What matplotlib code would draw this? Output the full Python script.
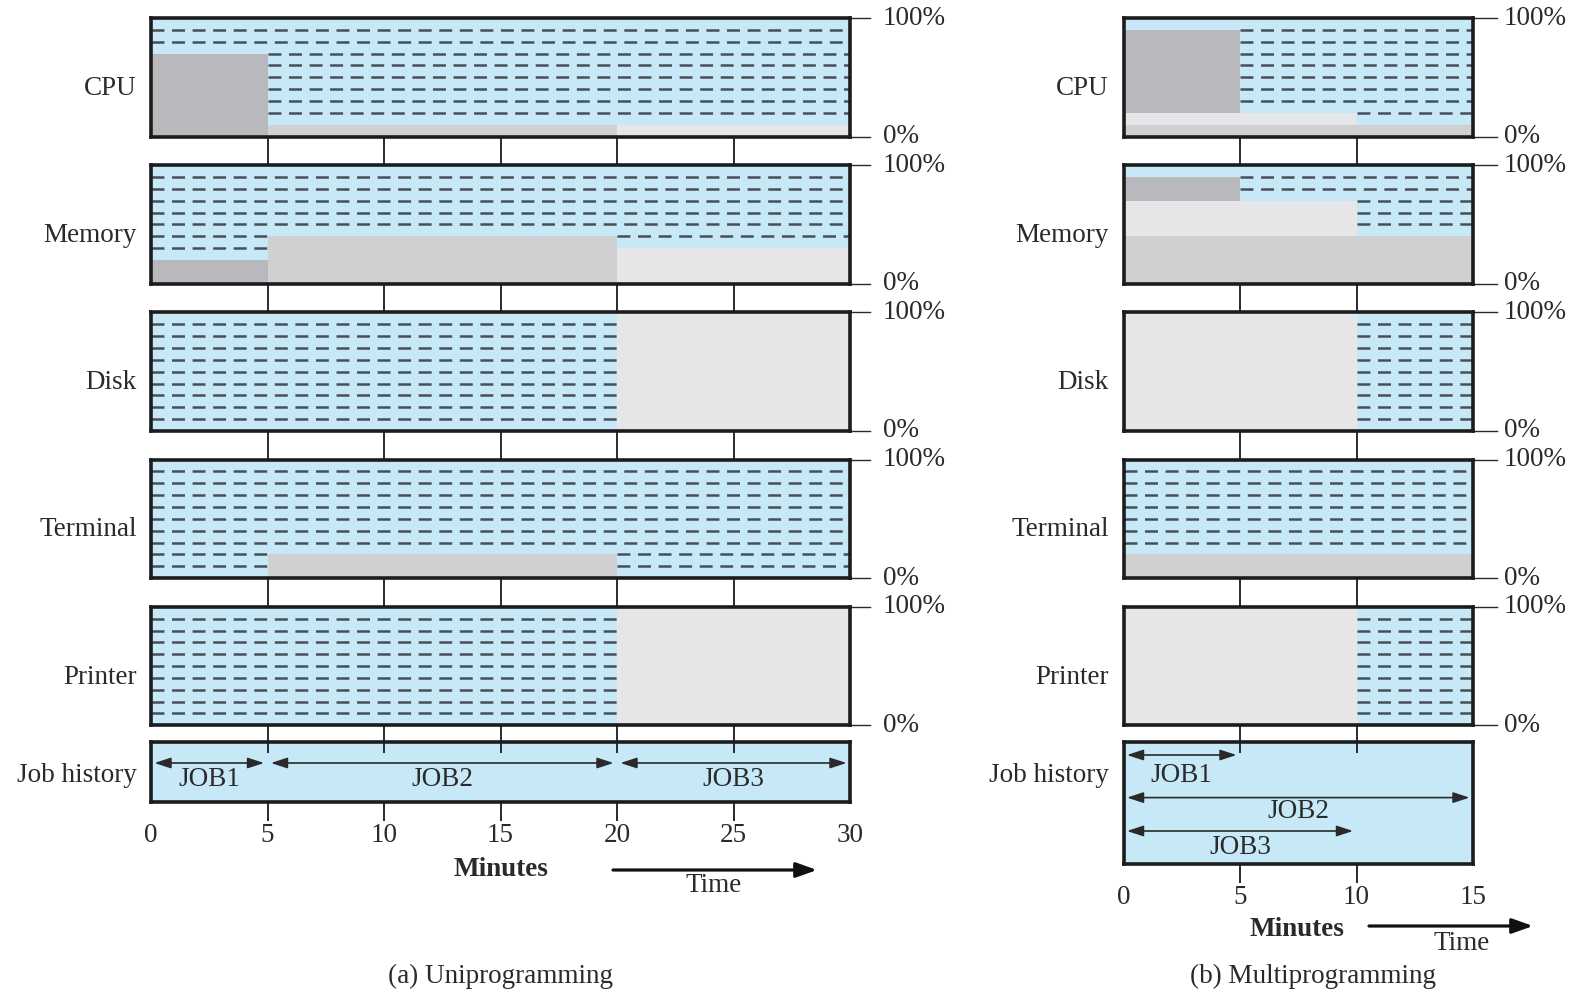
import matplotlib
matplotlib.use('Agg')
import matplotlib.pyplot as plt
from matplotlib.transforms import blended_transform_factory as blend

# ---------------- data ----------------
jobs = ['JOB1', 'JOB2', 'JOB3']
resources = ['CPU', 'Memory', 'Disk', 'Terminal', 'Printer']
cpu_use = [70, 10, 10]
memory_use = [20, 40, 30]
disk_use = [0, 0, 100]
terminal_use = [0, 20, 0]
printer_use = [0, 0, 100]
uni_start = [0, 5, 20]
uni_end = [5, 20, 30]
multi_start = [0, 0, 0]
multi_end = [5, 15, 10]
multi_stack = ['JOB2', 'JOB3', 'JOB1']
uni_ticks = [0, 5, 10, 15, 20, 25, 30]
multi_ticks = [0, 5, 10, 15]
idle_levels = [10, 20, 30, 40, 50, 60, 70, 80, 90]
percent_values = [0, 100]
percent_labels = ['0%', '100%']
row_label_job = 'Job history'
usage = {'CPU': cpu_use, 'Memory': memory_use, 'Disk': disk_use,
         'Terminal': terminal_use, 'Printer': printer_use}

# ---------------- style ----------------
plt.rcParams['font.family'] = ['Liberation Serif', 'DejaVu Serif']
plt.rcParams['lines.scale_dashes'] = False
BLUE = '#c6e8f7'
JOB_COLORS = {'JOB1': '#b9b9bd', 'JOB2': '#d0d0d3', 'JOB3': '#e6e6e8'}
DASH = '#474f57'
INK = '#2a2a2a'
FS = 19.5

W, H, DPI = 1581, 990, 100
fig = plt.figure(figsize=(W / DPI, H / DPI), dpi=DPI)
fig.patch.set_facecolor('white')


def fx(p):
    return p / W


def fy(p):
    return 1 - p / H


ROW_TOP0, ROW_STEP, ROW_H = 18, 147.2, 118.5
JH_TOP = 742

sides = [
    dict(x0=151, x1=850, xmax=30, ticks=uni_ticks, start=uni_start, end=uni_end,
         stack=jobs, jh_bottom=801.6, arrow_y=[763, 763, 763], label_y=[780, 780, 780],
         tick_label_y=835, label_x=137, pct_line=20, pct_text=33,
         minutes=(501, 869), time=(714, 886), tarrow=(613, 817, 870),
         caption=(500, 976, '(a) Uniprogramming')),
    dict(x0=1123.5, x1=1473, xmax=15, ticks=multi_ticks, start=multi_start, end=multi_end,
         stack=multi_stack, jh_bottom=864, arrow_y=[755, 797.6, 831], label_y=[775, 812, 848],
         tick_label_y=897.5, label_x=1109, pct_line=24, pct_text=31,
         minutes=(1297, 930), time=(1462, 943), tarrow=(1369, 1533, 926),
         caption=(1313, 976, '(b) Multiprogramming')),
]


def style_box(ax):
    ax.set_facecolor(BLUE)
    ax.set_xticks([])
    ax.set_yticks([])
    for s in ax.spines.values():
        s.set_linewidth(2.6)
        s.set_color('#1c1c1c')
        s.set_zorder(5)


for sd in sides:
    x0, x1, xmax = sd['x0'], sd['x1'], sd['xmax']
    start, end, stack = sd['start'], sd['end'], sd['stack']
    inner = sd['ticks'][1:-1]
    for r, res in enumerate(resources):
        top = ROW_TOP0 + r * ROW_STEP
        ax = fig.add_axes([fx(x0), fy(top + ROW_H), fx(x1) - fx(x0), ROW_H / H])
        ax.set_xlim(0, xmax)
        ax.set_ylim(0, 100)
        style_box(ax)
        vals = usage[res]
        # stacked usage bars
        for k, job in enumerate(stack):
            i = jobs.index(job)
            if vals[i] <= 0:
                continue
            base = 0
            for o in stack[:k]:
                j = jobs.index(o)
                if start[j] < end[i] and end[j] > start[i]:
                    base += vals[j]
            ax.bar(start[i], vals[i], width=end[i] - start[i], bottom=base,
                   align='edge', color=JOB_COLORS[job], lw=0, zorder=1)
        # idle capacity (dashed)
        bounds = sorted(set(start + end + [0, xmax]))
        segs = []
        for a, b in zip(bounds[:-1], bounds[1:]):
            t = sum(vals[i] for i in range(len(jobs)) if start[i] <= a and end[i] >= b)
            segs.append((a, b, t))
        for L in idle_levels:
            run = None
            for a, b, t in segs:
                if t < L - 0.5:
                    run = (run[0], b) if run else (a, b)
                else:
                    if run:
                        ax.plot(run, [L, L], color=DASH, lw=1.8, ls=(0, (9.3, 5.5)),
                                dash_capstyle='butt', zorder=2)
                    run = None
            if run:
                ax.plot(run, [L, L], color=DASH, lw=1.8, ls=(0, (9.3, 5.5)),
                        dash_capstyle='butt', zorder=2)
        # row label
        fig.text(fx(sd['label_x']), fy(top + ROW_H * 0.5 + 11), res, ha='right',
                 va='center', fontsize=FS, color=INK)
        # percent markers
        ytr = ax.get_yaxis_transform()
        for yv, lab in zip(percent_values, percent_labels):
            ax.plot([1, 1 + sd['pct_line'] / (x1 - x0)], [yv, yv], transform=ytr,
                    clip_on=False, color=INK, lw=1.0)
            ax.annotate(lab, xy=(1, yv), xycoords=ytr, xytext=(sd['pct_text'] * 0.72, 0),
                        textcoords='offset points', ha='left', va='center',
                        fontsize=FS, color=INK)
        # connector ticks down to next panel
        nxt = top + ROW_STEP if r < len(resources) - 1 else JH_TOP
        tr = blend(ax.transData, fig.transFigure)
        ax.vlines(inner, fy(nxt), fy(top + ROW_H), transform=tr, clip_on=False,
                  color=INK, lw=1.4)

    # job history
    jb = sd['jh_bottom']
    jax = fig.add_axes([fx(x0), fy(jb), fx(x1) - fx(x0), (jb - JH_TOP) / H])
    jax.set_xlim(0, xmax)
    jax.set_ylim(0, 1)
    style_box(jax)
    tr = blend(jax.transData, fig.transFigure)
    jax.vlines(inner, fy(JH_TOP + 11), fy(JH_TOP), transform=tr, clip_on=False,
               color=INK, lw=1.4, zorder=3)
    jax.vlines(inner, fy(jb + 19), fy(jb), transform=tr, clip_on=False,
               color=INK, lw=1.4)
    for t in sd['ticks']:
        jax.text(t, fy(sd['tick_label_y']), str(t), transform=tr, ha='center',
                 va='center', fontsize=FS, color=INK)
    for i, job in enumerate(jobs):
        yy = fy(sd['arrow_y'][i])
        jax.annotate('', xy=(end[i], yy), xytext=(start[i], yy), xycoords=tr,
                     annotation_clip=False,
                     arrowprops=dict(arrowstyle='<|-|>,head_length=0.55,head_width=0.18',
                                     color=INK, lw=1.2, shrinkA=2.5, shrinkB=2.5,
                                     mutation_scale=18))
        jax.text((start[i] + end[i]) / 2, fy(sd['label_y'][i]), job, transform=tr,
                 ha='center', va='center', fontsize=FS, color=INK)
    fig.text(fx(sd['label_x']), fy(775), row_label_job, ha='right', va='center',
             fontsize=FS, color=INK)

    # axis title, time arrow, caption
    fig.text(fx(sd['minutes'][0]), fy(sd['minutes'][1]), 'Minutes', ha='center',
             va='center', fontsize=FS, fontweight='bold', color=INK)
    fig.text(fx(sd['time'][0]), fy(sd['time'][1]), 'Time', ha='center',
             va='center', fontsize=FS, color=INK)
    ta = sd['tarrow']
    jax.annotate('', xy=(fx(ta[1]), fy(ta[2])), xytext=(fx(ta[0]), fy(ta[2])),
                 xycoords='figure fraction', annotation_clip=False,
                 arrowprops=dict(arrowstyle='-|>,head_length=0.7,head_width=0.25',
                                 color='#111111', lw=2.3, shrinkA=0, shrinkB=0,
                                 mutation_scale=18))
    cp = sd['caption']
    fig.text(fx(cp[0]), fy(cp[1]), cp[2], ha='center', va='center', fontsize=FS,
             color=INK)

fig.savefig('out.png', dpi=DPI)
